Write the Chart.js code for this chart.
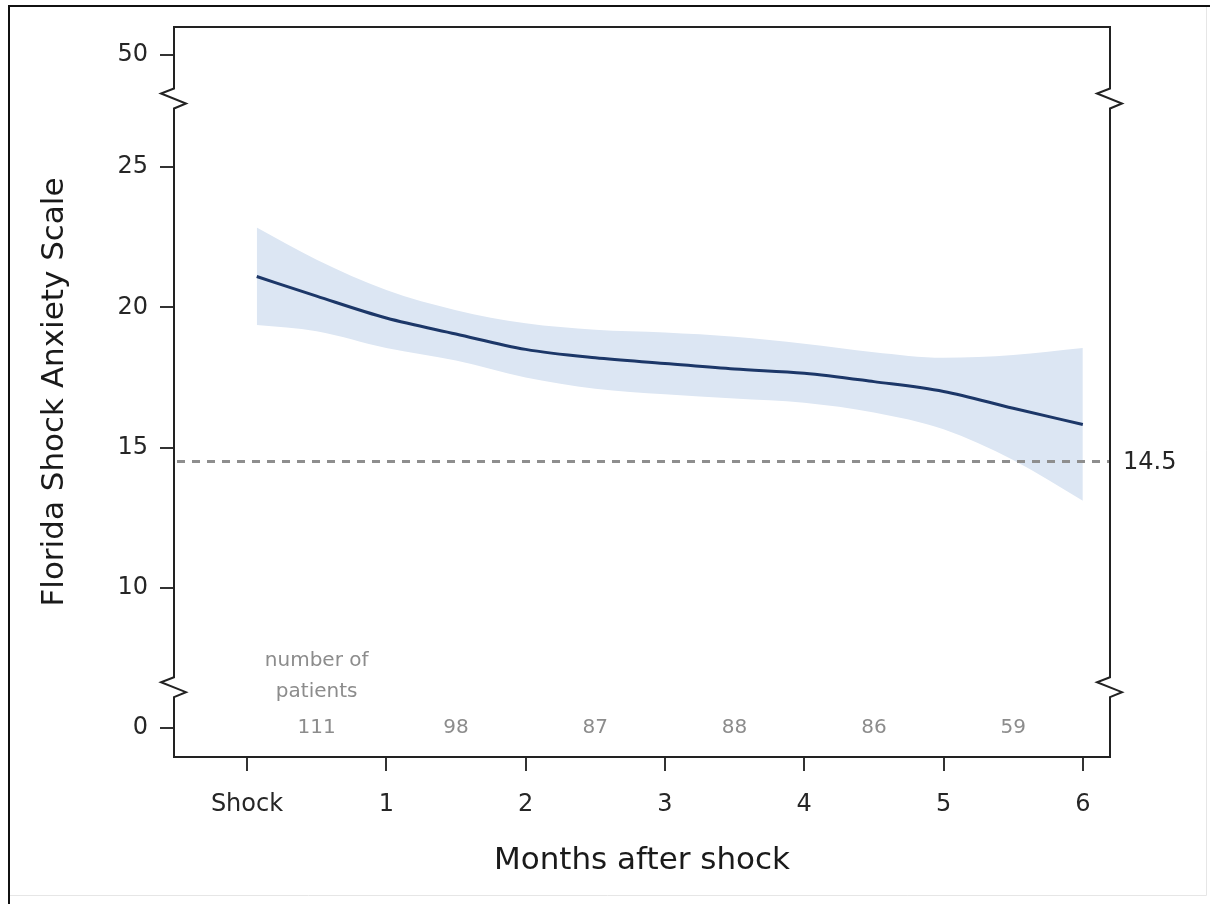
<!DOCTYPE html>
<html><head><meta charset="utf-8">
<script src="https://cdn.jsdelivr.net/npm/chart.js@4"></script>
<style>html,body{margin:0;padding:0;background:#fff;} canvas{display:block;}</style>
</head><body>
<canvas id="c" width="1210" height="904"></canvas>
<script>
// ---- data ----
const months     = [0.07, 0.5,  1,     1.5,   2,     2.5,  3,    3.5,   4,     4.5,   5,     5.5,   6];
const fsasMean   = [21.1, 20.4, 19.62, 19.05, 18.5,  18.2, 18.0, 17.8,  17.65, 17.35, 17.0,  16.4,  15.82];
const ciUpper    = [22.85,21.7, 20.62, 19.9,  19.43, 19.2, 19.1, 18.95, 18.7,  18.4,  18.2,  18.3,  18.55];
const ciLower    = [19.37,19.15,18.55, 18.1,  17.5,  17.1, 16.9, 16.75, 16.6,  16.25, 15.65, 14.55, 13.1];
const xTickValues = [0, 1, 2, 3, 4, 5, 6];
const xTickLabels = ['Shock', '1', '2', '3', '4', '5', '6'];
const yTickValues = [5, 10, 15, 20, 25, 29];      // positions on the broken (compressed) axis
const yTickLabels = ['0', '10', '15', '20', '25', '50'];
const patientMonths = [0.5, 1.5, 2.5, 3.5, 4.5, 5.5];
const patientCounts = [111, 98, 87, 88, 86, 59];
const cutoffValue = 14.5;
const axisBreaks = [27.45, 6.45];

const FONT = '"DejaVu Sans", sans-serif';
const TXT = '#262626';
const GRAY = '#8c8c8c';

const decor = {
  id: 'decor',
  beforeDraw(chart) {
    const ctx = chart.ctx;
    ctx.save();
    ctx.fillStyle = '#fff';
    ctx.fillRect(0, 0, chart.width, chart.height);
    // outer frame
    ctx.strokeStyle = '#e6e6e6'; ctx.lineWidth = 1;
    ctx.beginPath(); ctx.moveTo(1206.5, 6); ctx.lineTo(1206.5, 895.5); ctx.lineTo(9, 895.5); ctx.stroke();
    ctx.strokeStyle = '#111'; ctx.lineWidth = 2;
    ctx.beginPath(); ctx.moveTo(9, 904); ctx.lineTo(9, 6); ctx.lineTo(1210, 6); ctx.stroke();
    ctx.restore();
  },
  afterDatasetsDraw(chart) {
    const ctx = chart.ctx, a = chart.chartArea;
    const xs = chart.scales.x, ys = chart.scales.y;
    ctx.save();
    // cutoff dashed line
    const yc = ys.getPixelForValue(cutoffValue);
    ctx.strokeStyle = '#8e8e8e'; ctx.lineWidth = 3; ctx.setLineDash([8, 7]);
    ctx.beginPath(); ctx.moveTo(a.left + 3, yc); ctx.lineTo(a.right, yc); ctx.stroke();
    ctx.setLineDash([]);
    ctx.fillStyle = TXT; ctx.font = '24px ' + FONT; ctx.textAlign = 'left'; ctx.textBaseline = 'middle';
    ctx.fillText(String(cutoffValue), a.right + 13, yc + 1);
    // patient counts
    const y0 = ys.getPixelForValue(yTickValues[0]);
    ctx.fillStyle = GRAY; ctx.font = '20px ' + FONT; ctx.textAlign = 'center';
    patientMonths.forEach((m, i) => {
      ctx.fillText(String(patientCounts[i]), xs.getPixelForValue(m), y0);
    });
    const xm = xs.getPixelForValue(patientMonths[0]);
    ctx.fillText('number of', xm, y0 - 67);
    ctx.fillText('patients', xm, y0 - 36);
    // box with axis breaks
    ctx.strokeStyle = '#222'; ctx.lineWidth = 2; ctx.lineJoin = 'miter';
    const side = (x) => {
      ctx.beginPath();
      ctx.moveTo(x, a.top);
      axisBreaks.forEach(b => {
        const p = ys.getPixelForValue(b);
        ctx.lineTo(x, p - 10);
        ctx.lineTo(x - 13, p - 5);
        ctx.lineTo(x + 12, p + 5);
        ctx.lineTo(x, p + 10);
      });
      ctx.lineTo(x, a.bottom);
      ctx.stroke();
    };
    side(a.left); side(a.right);
    ctx.beginPath(); ctx.moveTo(a.left - 1, a.top); ctx.lineTo(a.right + 1, a.top); ctx.stroke();
    ctx.beginPath(); ctx.moveTo(a.left - 1, a.bottom); ctx.lineTo(a.right + 1, a.bottom); ctx.stroke();
    ctx.restore();
  }
};

new Chart(document.getElementById('c'), {
  type: 'line',
  data: {
    datasets: [
      {
        label: 'mean',
        data: months.map((m, i) => ({x: m, y: fsasMean[i]})),
        borderColor: '#1c3768', borderWidth: 3, pointRadius: 0, fill: false,
        cubicInterpolationMode: 'monotone', order: 0
      },
      {
        label: 'upper',
        data: months.map((m, i) => ({x: m, y: ciUpper[i]})),
        borderWidth: 0, borderColor: 'rgba(0,0,0,0)', pointRadius: 0,
        backgroundColor: 'rgb(220,230,243)', fill: '+1',
        cubicInterpolationMode: 'monotone', order: 1
      },
      {
        label: 'lower',
        data: months.map((m, i) => ({x: m, y: ciLower[i]})),
        borderWidth: 0, borderColor: 'rgba(0,0,0,0)', pointRadius: 0, fill: false,
        cubicInterpolationMode: 'monotone', order: 2
      }
    ]
  },
  options: {
    responsive: false, animation: false, devicePixelRatio: 1,
    layout: {padding: {top: 27, right: 100, left: 0, bottom: 0}},
    plugins: {legend: {display: false}, tooltip: {enabled: false}},
    scales: {
      x: {
        type: 'linear', min: -0.524, max: 6.195,
        afterBuildTicks: s => { s.ticks = xTickValues.map(v => ({value: v})); },
        afterFit: s => { s.height = 147; },
        ticks: {callback: (v, i) => xTickLabels[i], font: {family: FONT, size: 24}, color: TXT, padding: 19, maxRotation: 0, autoSkip: false},
        grid: {drawOnChartArea: false, tickLength: 14, color: '#333', lineWidth: 2},
        border: {display: false},
        title: {display: true, text: 'Months after shock', font: {family: FONT, size: 31}, color: '#1a1a1a', padding: {top: 0, bottom: 24}}
      },
      y: {
        type: 'linear', min: 3.96, max: 30.0,
        afterBuildTicks: s => { s.ticks = yTickValues.map(v => ({value: v})); },
        afterFit: s => { s.width = 174; },
        ticks: {callback: (v, i) => yTickLabels[i], font: {family: FONT, size: 24}, color: TXT, padding: 12, autoSkip: false},
        grid: {drawOnChartArea: false, tickLength: 14, color: '#333', lineWidth: 2},
        border: {display: false},
        title: {display: true, text: 'Florida Shock Anxiety Scale', font: {family: FONT, size: 31}, color: '#1a1a1a', padding: {top: 36, bottom: 0}}
      }
    }
  },
  plugins: [decor]
});
</script>
</body></html>
